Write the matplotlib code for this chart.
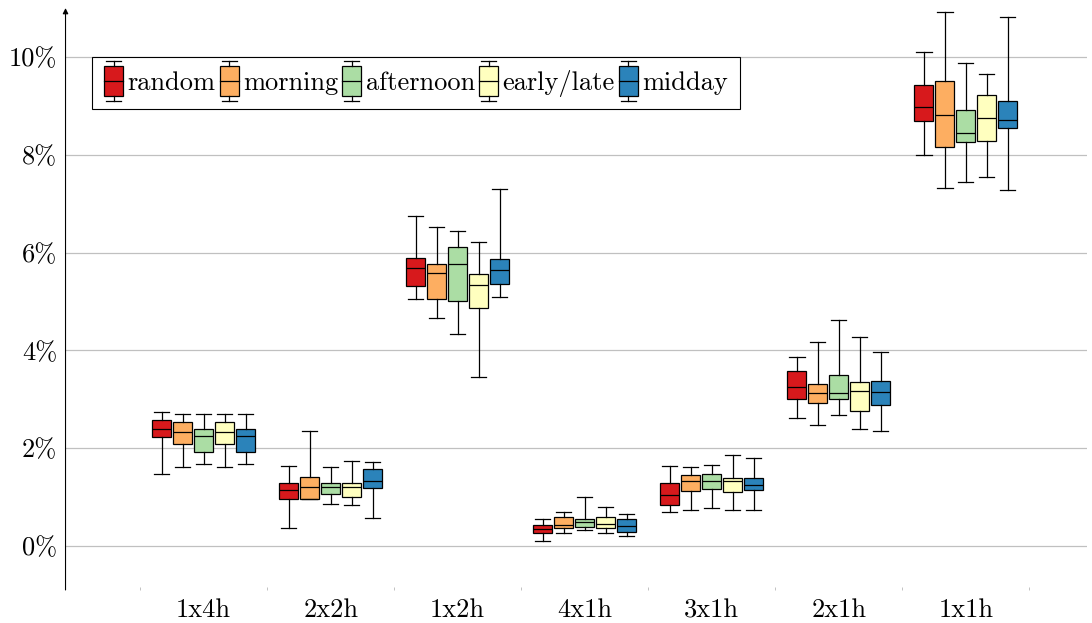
import matplotlib
matplotlib.use('Agg')
import matplotlib.pyplot as plt
from matplotlib.legend_handler import HandlerBase
from matplotlib.patches import Rectangle
from matplotlib.lines import Line2D
from matplotlib.ticker import FuncFormatter, FixedLocator

#############################
########### DATA ############
#############################

categories = ['1x4h', '2x2h', '1x2h', '4x1h', '3x1h', '2x1h', '1x1h']
series_names = ['random', 'morning', 'afternoon', 'early/late', 'midday']

# (whisker low, q1, median, q3, whisker high) in percent, one per category
random = [(1.47, 2.22, 2.39, 2.58, 2.73), (0.37, 0.96, 1.15, 1.28, 1.64),
          (5.06, 5.31, 5.68, 5.89, 6.75), (0.11, 0.27, 0.34, 0.43, 0.55),
          (0.70, 0.84, 1.05, 1.28, 1.64), (2.62, 3.00, 3.25, 3.57, 3.87),
          (7.99, 8.69, 8.97, 9.43, 10.10)]
morning = [(1.61, 2.08, 2.33, 2.53, 2.69), (0.97, 0.97, 1.21, 1.41, 2.35),
           (4.66, 5.05, 5.58, 5.77, 6.52), (0.27, 0.36, 0.42, 0.60, 0.69),
           (0.73, 1.12, 1.32, 1.45, 1.62), (2.47, 2.93, 3.12, 3.31, 4.17),
           (7.33, 8.15, 8.81, 9.51, 10.92)]
afternoon = [(1.68, 1.92, 2.24, 2.39, 2.69), (0.86, 1.06, 1.20, 1.28, 1.62),
             (4.34, 5.02, 5.77, 6.11, 6.45), (0.33, 0.38, 0.50, 0.56, 1.00),
             (0.78, 1.17, 1.32, 1.48, 1.66), (2.67, 3.01, 3.12, 3.49, 4.63),
             (7.45, 8.26, 8.45, 8.92, 9.88)]
early_late = [(1.61, 2.08, 2.33, 2.53, 2.69), (0.83, 1.01, 1.20, 1.29, 1.73),
              (3.46, 4.87, 5.33, 5.56, 6.22), (0.27, 0.36, 0.45, 0.60, 0.80),
              (0.74, 1.10, 1.33, 1.38, 1.87), (2.40, 2.76, 3.16, 3.35, 4.27),
              (7.55, 8.28, 8.75, 9.22, 9.65)]
midday = [(1.68, 1.92, 2.24, 2.39, 2.69), (0.58, 1.18, 1.32, 1.57, 1.71),
          (5.09, 5.36, 5.64, 5.86, 7.31), (0.21, 0.29, 0.40, 0.55, 0.65),
          (0.73, 1.14, 1.25, 1.40, 1.79), (2.35, 2.88, 3.14, 3.37, 3.96),
          (7.29, 8.54, 8.72, 9.11, 10.82)]

y_ticks = [0, 2, 4, 6, 8, 10]

#############################
########## STYLE ############
#############################

COLORS = ['#d7191c', '#fdae61', '#abdda4', '#ffffbf', '#2b83ba']
OFFSETS = [-0.33, -0.165, 0.0, 0.165, 0.33]
BOX_W = 0.15
CAP_W = 0.12
LW = 0.9
FS = 19

plt.rcParams['font.family'] = ['cmr10', 'DejaVu Serif']
plt.rcParams['mathtext.fontset'] = 'cm'
plt.rcParams['axes.unicode_minus'] = False
plt.rcParams['axes.formatter.use_mathtext'] = True


class HandlerBox(HandlerBase):
	# draws a tiny boxplot glyph as legend key
	def __init__(self, color):
		super().__init__()
		self._color = color

	def create_artists(self, legend, orig_handle, xdescent, ydescent, width, height, fontsize, trans):
		cx = width / 2 - xdescent
		h = height * 1.7
		y0 = -ydescent - (h - height) / 2
		bw = width * 0.95
		cw = width * 0.75
		box = Rectangle((cx - bw / 2, y0 + h * 0.13), bw, h * 0.74, facecolor=self._color,
						edgecolor='black', lw=LW, transform=trans)
		med = Line2D([cx - bw / 2, cx + bw / 2], [y0 + h * 0.5] * 2, color='black', lw=LW, transform=trans)
		wl = Line2D([cx, cx], [y0, y0 + h * 0.13], color='black', lw=LW, transform=trans)
		wh = Line2D([cx, cx], [y0 + h * 0.87, y0 + h], color='black', lw=LW, transform=trans)
		cl = Line2D([cx - cw / 2, cx + cw / 2], [y0] * 2, color='black', lw=LW, transform=trans)
		ch = Line2D([cx - cw / 2, cx + cw / 2], [y0 + h] * 2, color='black', lw=LW, transform=trans)
		return [box, med, wl, wh, cl, ch]


fig = plt.figure(figsize=(10.92, 6.23), dpi=100)
ax = fig.add_axes([0.060, 0.053, 0.935, 0.934])

all_series = [random, morning, afternoon, early_late, midday]
handles = []
for s, (data, color, off) in enumerate(zip(all_series, COLORS, OFFSETS)):
	stats = []
	for lo, q1, med, q3, hi in data:
		stats.append(dict(whislo=lo, q1=q1, med=med, q3=q3, whishi=hi, fliers=[]))
	positions = [i + 1 + off for i in range(len(categories))]
	ax.bxp(stats, positions=positions, widths=BOX_W, capwidths=CAP_W, patch_artist=True,
		   showfliers=False, manage_ticks=False,
		   boxprops=dict(facecolor=color, edgecolor='black', lw=LW),
		   medianprops=dict(color='black', lw=LW),
		   whiskerprops=dict(color='black', lw=LW),
		   capprops=dict(color='black', lw=LW), zorder=3)
	handles.append(Rectangle((0, 0), 1, 1, facecolor=color))

ax.set_xlim(-0.087, 7.95)
ax.set_ylim(-0.9, 11.0)

ax.set_yticks(y_ticks)
ax.yaxis.set_major_formatter(FuncFormatter(lambda v, p: '%d%%' % v))
ax.yaxis.grid(True, color='#c0c0c0', lw=0.9, zorder=0)
ax.set_axisbelow(True)
ax.tick_params(axis='y', length=0, labelsize=FS, pad=6)

ax.set_xticks(range(1, len(categories) + 1))
ax.set_xticklabels(categories)
ax.xaxis.set_minor_locator(FixedLocator([i + 0.5 for i in range(len(categories) + 1)]))
ax.tick_params(axis='x', which='major', length=0, labelsize=FS, pad=6)
ax.tick_params(axis='x', which='minor', length=2, width=0.5, color='#aaaaaa', direction='in')

for sp in ['top', 'right', 'bottom', 'left']:
	ax.spines[sp].set_visible(False)

# left axis with arrow head on top
ax.annotate('', xy=(0, 1), xytext=(0, 0), xycoords='axes fraction',
			arrowprops=dict(arrowstyle='-|>', color='black', lw=0.8, mutation_scale=8, shrinkA=0, shrinkB=0))

leg = ax.legend(handles, series_names, ncol=5, loc='upper left', bbox_to_anchor=(0.026, 0.916),
				handler_map={h: HandlerBox(c) for h, c in zip(handles, COLORS)},
				fontsize=FS, frameon=True, fancybox=False, edgecolor='black', framealpha=1,
				handlelength=0.75, handleheight=1.0, handletextpad=0.15, columnspacing=0.14,
				borderpad=0.45, borderaxespad=0)
leg.get_frame().set_linewidth(0.8)

fig.savefig('out.png', dpi=100)
